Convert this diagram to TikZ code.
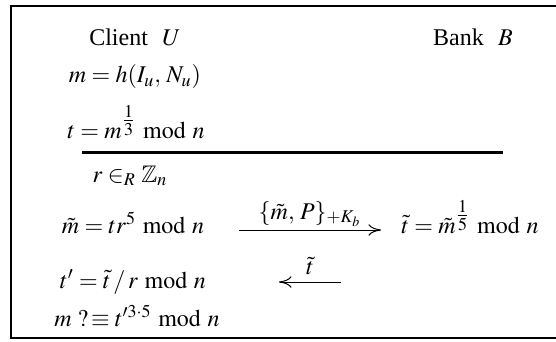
\documentclass[tikz,border=0pt]{standalone}
\usepackage{amsmath}
\usepackage{amssymb}
\usepackage{mathptmx}
\usepackage{fontspec}
\setmainfont{Liberation Serif}
\usetikzlibrary{arrows.meta,positioning}
\tikzset{
  eqn/.style={
    anchor=base,
    inner sep=0pt,
    font=\fontsize{12}{14}\selectfont
  },
  msg/.style={
    -{To[length=2.2mm,width=2mm]},
    line width=.5pt
  },
  msglbl/.style={
    above,
    inner sep=1.5pt,
    font=\fontsize{12}{14}\selectfont
  },
  rulebar/.style={
    line width=1.5pt
  },
  frame/.style={
    line width=.6pt
  }
}
\begin{document}
\begin{tikzpicture}[x=0.5pt,y=-0.5pt]
\useasboundingbox (0,0) rectangle (556,342);
\draw[frame] (556,6) -- (11,6) -- (11,338) -- (556,338);
% parties
\node[eqn] (client) at (135,46) {Client\hspace{0.6em}$U$};
\node[eqn] (bank) at (473,46) {Bank\hspace{0.6em}$B$};
% client side
\node[eqn] (hashm) at (135,83) {$m = h(I_u,\, N_u)$};
\node[eqn] (sigt) at (136,138) {$t = m^{\tfrac{1}{3}} \bmod n$};
\coordinate (rulel) at (82,152);
\coordinate (ruler) at (503,152);
\draw[rulebar] (rulel) -- (ruler);
\node[eqn] (blindr) at (130,182) {$r \in_R \mathbb{Z}_n$};
\node[eqn] (blindm) at (133,233) {$\tilde{m} = tr^5 \bmod n$};
\node[eqn] (unblind) at (133,288) {$t' = \tilde{t}\,/\,r \bmod n$};
\node[eqn] (verify) at (137,326) {$m\ ?\!\equiv t'^{3\cdot 5} \bmod n$};
% bank side
\node[eqn] (signb) at (470,233) {$\tilde{t} = \tilde{m}^{\tfrac{1}{5}} \bmod n$};
% messages
\coordinate (send0) at (239,230);
\coordinate (send1) at (381,230);
\draw[msg] (send0) -- node[msglbl] {$\{\tilde{m},\, P\}_{+K_b}$} (send1);
\coordinate (ret0) at (341,282);
\coordinate (ret1) at (279,282);
\draw[msg] (ret0) -- node[msglbl,yshift=2pt] {$\tilde{t}$} (ret1);
\end{tikzpicture}
\end{document}
